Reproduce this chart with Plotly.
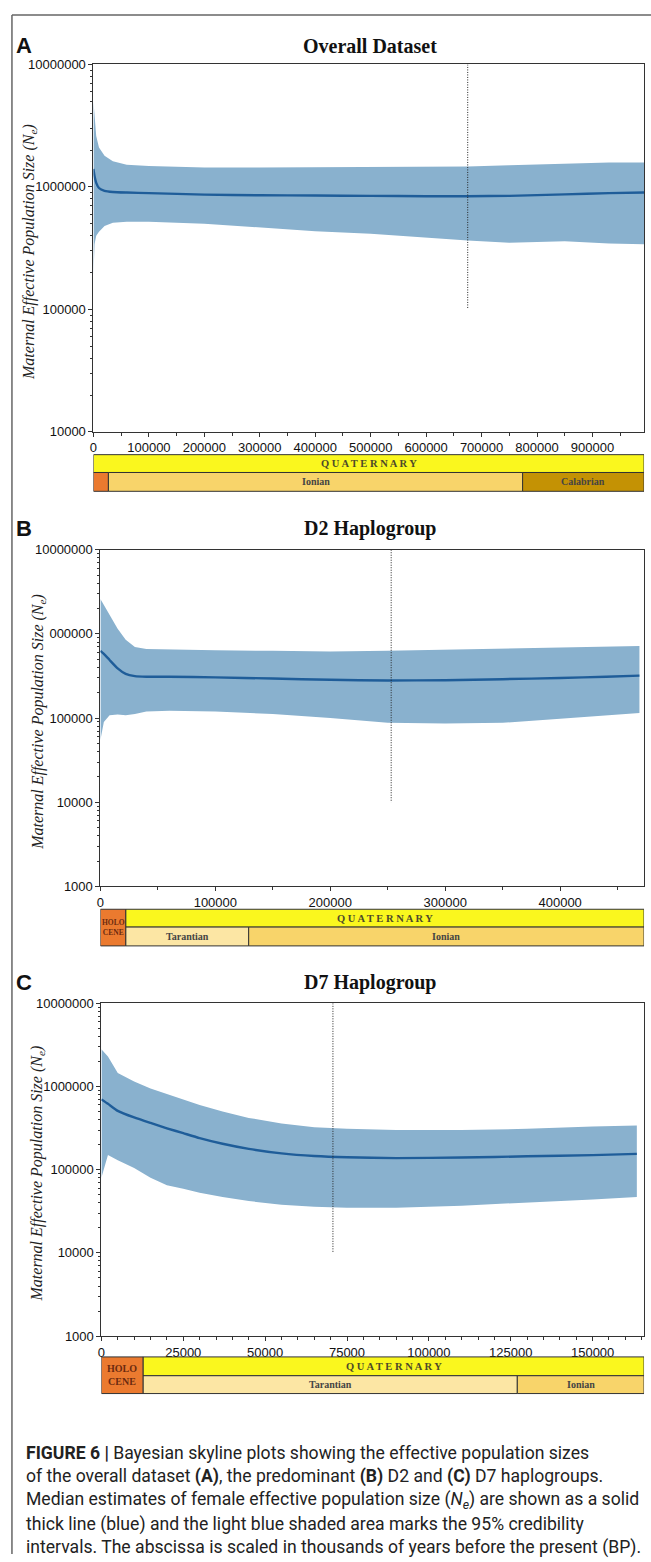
import plotly.graph_objects as go

W, H = 651, 1562

# ---------------- data ----------------
# Panel A: overall dataset
xa = [0, 2000, 5000, 10000, 20000, 35000, 60000, 100000, 200000, 300000, 400000,
      500000, 600000, 675000, 750000, 850000, 930000, 993000]
med_a = [1.4e6, 1.22e6, 1.08e6, 9.8e5, 9.3e5, 9.1e5, 9.0e5, 8.9e5, 8.65e5, 8.55e5, 8.5e5,
         8.45e5, 8.4e5, 8.4e5, 8.45e5, 8.7e5, 8.9e5, 9.0e5]
up_a = [5.0e6, 3.6e6, 2.6e6, 2.1e6, 1.8e6, 1.62e6, 1.52e6, 1.48e6, 1.44e6, 1.44e6, 1.45e6,
        1.45e6, 1.46e6, 1.47e6, 1.5e6, 1.55e6, 1.58e6, 1.58e6]
lo_a = [1.9e5, 3.4e5, 4.0e5, 4.3e5, 4.8e5, 5.1e5, 5.2e5, 5.2e5, 5.0e5, 4.65e5, 4.35e5,
        4.15e5, 3.85e5, 3.65e5, 3.5e5, 3.6e5, 3.45e5, 3.4e5]
vline_a = 675000
xmax_a = 993000

# Panel B: D2 haplogroup
xb = [0, 3000, 8000, 15000, 22000, 30000, 40000, 60000, 100000, 150000, 200000,
      250000, 300000, 350000, 400000, 440000, 469000]
med_b = [6.3e5, 5.8e5, 4.9e5, 3.9e5, 3.35e5, 3.15e5, 3.1e5, 3.1e5, 3.05e5, 2.95e5, 2.85e5,
         2.8e5, 2.82e5, 2.9e5, 3.0e5, 3.1e5, 3.2e5]
up_b = [2.6e6, 2.2e6, 1.7e6, 1.15e6, 8.5e5, 7.0e5, 6.6e5, 6.5e5, 6.4e5, 6.3e5, 6.2e5,
        6.3e5, 6.5e5, 6.7e5, 6.9e5, 7.1e5, 7.2e5]
lo_b = [5.5e4, 9.0e4, 1.08e5, 1.1e5, 1.08e5, 1.12e5, 1.2e5, 1.22e5, 1.2e5, 1.12e5, 1.0e5,
        8.8e4, 8.6e4, 8.8e4, 9.8e4, 1.08e5, 1.15e5]
vline_b = 253000
xmax_b = 473000

# Panel C: D7 haplogroup
xc = [0, 2000, 5000, 10000, 15000, 20000, 25000, 30000, 37000, 45000, 55000, 65000,
      75000, 90000, 110000, 130000, 150000, 163500]
med_c = [7.0e5, 6.2e5, 5.1e5, 4.25e5, 3.65e5, 3.15e5, 2.75e5, 2.4e5, 2.05e5, 1.78e5, 1.57e5,
         1.46e5, 1.41e5, 1.38e5, 1.4e5, 1.45e5, 1.5e5, 1.55e5]
up_c = [2.8e6, 2.3e6, 1.45e6, 1.15e6, 9.5e5, 8.2e5, 7.0e5, 6.0e5, 5.0e5, 4.2e5, 3.6e5,
        3.25e5, 3.1e5, 3.0e5, 3.0e5, 3.1e5, 3.3e5, 3.4e5]
lo_c = [8.0e4, 1.5e5, 1.3e5, 1.05e5, 8.0e4, 6.5e4, 5.9e4, 5.3e4, 4.7e4, 4.2e4, 3.8e4,
        3.6e4, 3.5e4, 3.5e4, 3.7e4, 4.0e4, 4.4e4, 4.7e4]
vline_c = 70700
xmax_c = 165700

# geological time-scale boundaries (years BP, as drawn)
geo_a = {"top": [("Q U A T E R N A R Y", 0, xmax_a, "quat")],
         "bottom": [("", 0, 27000, "holo"), ("Ionian", 27000, 774000, "ion"),
                    ("Calabrian", 774000, xmax_a, "cal")],
         "full": []}
geo_b = {"top": [("Q U A T E R N A R Y", 22000, xmax_b, "quat")],
         "bottom": [("Tarantian", 22000, 129000, "tar"), ("Ionian", 129000, xmax_b, "ion")],
         "full": [("HOLO<br>CENE", 0, 22000, "holo")]}
geo_c = {"top": [("Q U A T E R N A R Y", 12700, xmax_c, "quat")],
         "bottom": [("Tarantian", 12700, 127000, "tar"), ("Ionian", 127000, xmax_c, "ion")],
         "full": [("HOLO<br>CENE", 0, 12700, "holo")]}

titles = ["Overall Dataset", "D2 Haplogroup", "D7 Haplogroup"]
letters = ["A", "B", "C"]

# ---------------- styling ----------------
FILL = "rgb(137,177,206)"
LINE = "#1F5D99"
GEO_COL = {"quat": "#FAF71E", "holo": "#EB7A2F", "ion": "#F8D46A",
           "tar": "#FCE6A4", "cal": "#C49204"}
SERIF = "Liberation Serif, Times New Roman, serif"
SANS = "Liberation Sans, Arial, sans-serif"


def px_x(p):
    return p / W


def px_y(p):
    return 1 - p / H


panels = [
    dict(x0=90, x1=644, yt=58, yb=429, ty=39, g=(452, 470, 489), ylx=25, yr=(4, 7),
         xmax=xmax_a, xs=xa, med=med_a, up=up_a, lo=lo_a, vl=vline_a, vlb=1e5, geo=geo_a,
         dt=100000, mdt=50000, hs=9),
    dict(x0=97, x1=644, yt=548, yb=888, ty=527, g=(911, 929, 948), ylx=34, yr=(3, 7),
         xmax=xmax_b, xs=xb, med=med_b, up=up_b, lo=lo_b, vl=vline_b, vlb=1e4, geo=geo_b,
         dt=100000, mdt=50000, hs=7.5),
    dict(x0=98, x1=644, yt=1006, yb=1342, ty=985, g=(1363, 1382, 1400), ylx=34, yr=(3, 7),
         xmax=xmax_c, xs=xc, med=med_c, up=up_c, lo=lo_c, vl=vline_c, vlb=1e4, geo=geo_c,
         dt=25000, mdt=5000, hs=10),
]

fig = go.Figure()
shapes = []
annotations = []

for i, p in enumerate(panels):
    n = "" if i == 0 else str(i + 1)
    xr, yr_ = "x" + n, "y" + n
    fig.add_trace(go.Scatter(x=p["xs"], y=p["up"], mode="lines", line=dict(width=0),
                             hoverinfo="skip", showlegend=False, xaxis=xr, yaxis=yr_))
    fig.add_trace(go.Scatter(x=p["xs"], y=p["lo"], mode="lines", line=dict(width=0),
                             fill="tonexty", fillcolor=FILL, hoverinfo="skip",
                             showlegend=False, xaxis=xr, yaxis=yr_))
    fig.add_trace(go.Scatter(x=p["xs"], y=p["med"], mode="lines",
                             line=dict(color=LINE, width=2.4, shape="spline", smoothing=0.5),
                             showlegend=False, xaxis=xr, yaxis=yr_))
    fig.add_trace(go.Scatter(x=[p["vl"], p["vl"]], y=[10 ** p["yr"][1], p["vlb"]],
                             mode="lines", line=dict(color="#222", width=1, dash="1px,1.5px"),
                             showlegend=False, xaxis=xr, yaxis=yr_))

    lo_d, hi_d = p["yr"]
    tv = [10 ** d for d in range(lo_d, hi_d + 1)]
    tt = [str(v) for v in tv]
    if i == 1:
        tt = ["000000" if v == 10 ** 6 else t for v, t in zip(tv, tt)]
    minor_vals = [k * 10 ** d for d in range(lo_d, hi_d) for k in range(2, 10)]

    fig.update_layout(**{
        "xaxis" + n: dict(domain=[px_x(p["x0"]), px_x(p["x1"])], range=[0, p["xmax"]],
                          anchor=yr_, showgrid=False, zeroline=False, showline=True,
                          mirror=True, linecolor="#333", linewidth=1, ticks="outside",
                          ticklen=4, tickcolor="#333", tick0=0, dtick=p["dt"],
                          tickformat="d", tickfont=dict(family=SANS, size=13, color="#111"),
                          minor=dict(ticks="outside", ticklen=3, tickcolor="#333",
                                     dtick=p["mdt"], tick0=0, showgrid=False)),
        "yaxis" + n: dict(domain=[px_y(p["yb"]), px_y(p["yt"])], type="log",
                          range=[lo_d, hi_d], anchor=xr, showgrid=False, zeroline=False,
                          showline=True, mirror=True, linecolor="#333", linewidth=1,
                          ticks="outside", ticklen=4, tickcolor="#333", tickmode="array",
                          tickvals=tv, ticktext=tt, ticklabelstandoff=0,
                          tickfont=dict(family=SANS, size=13, color="#111"),
                          minor=dict(ticks="outside", ticklen=2.5, tickcolor="#333",
                                     tickmode="array", tickvals=minor_vals, showgrid=False)),
    })

    annotations.append(dict(text="<b>%s</b>" % letters[i], x=px_x(10), y=px_y(p["ty"]),
                            xref="paper", yref="paper", xanchor="left", yanchor="middle",
                            showarrow=False, font=dict(family=SANS, size=22, color="#111")))
    annotations.append(dict(text="<b>%s</b>" % titles[i], x=px_x(368), y=px_y(p["ty"]),
                            xref="paper", yref="paper", xanchor="center", yanchor="middle",
                            showarrow=False, font=dict(family=SERIF, size=20, color="#111")))
    annotations.append(dict(text="<i>Maternal Effective Population Size (N<sub>e</sub>)</i>",
                            x=px_x(p["ylx"]), y=px_y((p["yt"] + p["yb"]) / 2 + 4),
                            xref="paper", yref="paper", xanchor="center", yanchor="middle",
                            textangle=-90, showarrow=False,
                            font=dict(family=SERIF, size=16, color="#222")))

    gt, gm, gb = p["g"]
    rows = {"top": (gt, gm), "bottom": (gm, gb), "full": (gt, gb)}
    for key, (ra, rb) in rows.items():
        for label, a, b, kind in p["geo"][key]:
            shapes.append(dict(type="rect", xref=xr, yref="paper", x0=a, x1=b,
                               y0=px_y(rb), y1=px_y(ra), fillcolor=GEO_COL[kind],
                               line=dict(color="#333", width=1), layer="above"))
            if label:
                if kind == "holo":
                    fnt = dict(family=SERIF, size=p["hs"], color="#6b2a10")
                elif kind == "quat":
                    fnt = dict(family=SERIF, size=10.5, color="#4d4a2a")
                else:
                    fnt = dict(family=SERIF, size=10, color="#444")
                annotations.append(dict(text="<b>%s</b>" % label, x=(a + b) / 2,
                                        y=px_y((ra + rb) / 2), xref=xr, yref="paper",
                                        xanchor="center", yanchor="middle", showarrow=False,
                                        borderpad=0, font=fnt))

shapes.append(dict(type="line", xref="paper", yref="paper", x0=px_x(8), x1=1,
                   y0=px_y(8), y1=px_y(8), line=dict(color="#666", width=1.5)))
shapes.append(dict(type="line", xref="paper", yref="paper", x0=px_x(8), x1=px_x(8),
                   y0=0, y1=px_y(8), line=dict(color="#666", width=1.5)))

caption = [
    "<b>FIGURE 6 |</b> Bayesian skyline plots showing the effective population sizes",
    "of the overall dataset <b>(A)</b>, the predominant <b>(B)</b> D2 and <b>(C)</b> D7 haplogroups.",
    "Median estimates of female effective population size (<i>N<sub>e</sub></i>) are shown as a solid",
    "thick line (blue) and the light blue shaded area marks the 95% credibility",
    "intervals. The abscissa is scaled in thousands of years before the present (BP).",
]
cap_y = [1460, 1484, 1508, 1532, 1555]
for txt, yy in zip(caption, cap_y):
    annotations.append(dict(text=txt, x=px_x(21), y=px_y(yy), xref="paper", yref="paper",
                            xanchor="left", yanchor="middle", showarrow=False, borderpad=0,
                            font=dict(family="Roboto, sans-serif", size=17.6, color="#222")))

fig.update_layout(width=W, height=H, margin=dict(l=0, r=0, t=0, b=0),
                  paper_bgcolor="white", plot_bgcolor="white",
                  shapes=shapes, annotations=annotations, showlegend=False)

fig.write_html("out.html", config={"displayModeBar": False},
               post_script="document.body.style.margin='0';document.body.style.overflow='hidden';")
